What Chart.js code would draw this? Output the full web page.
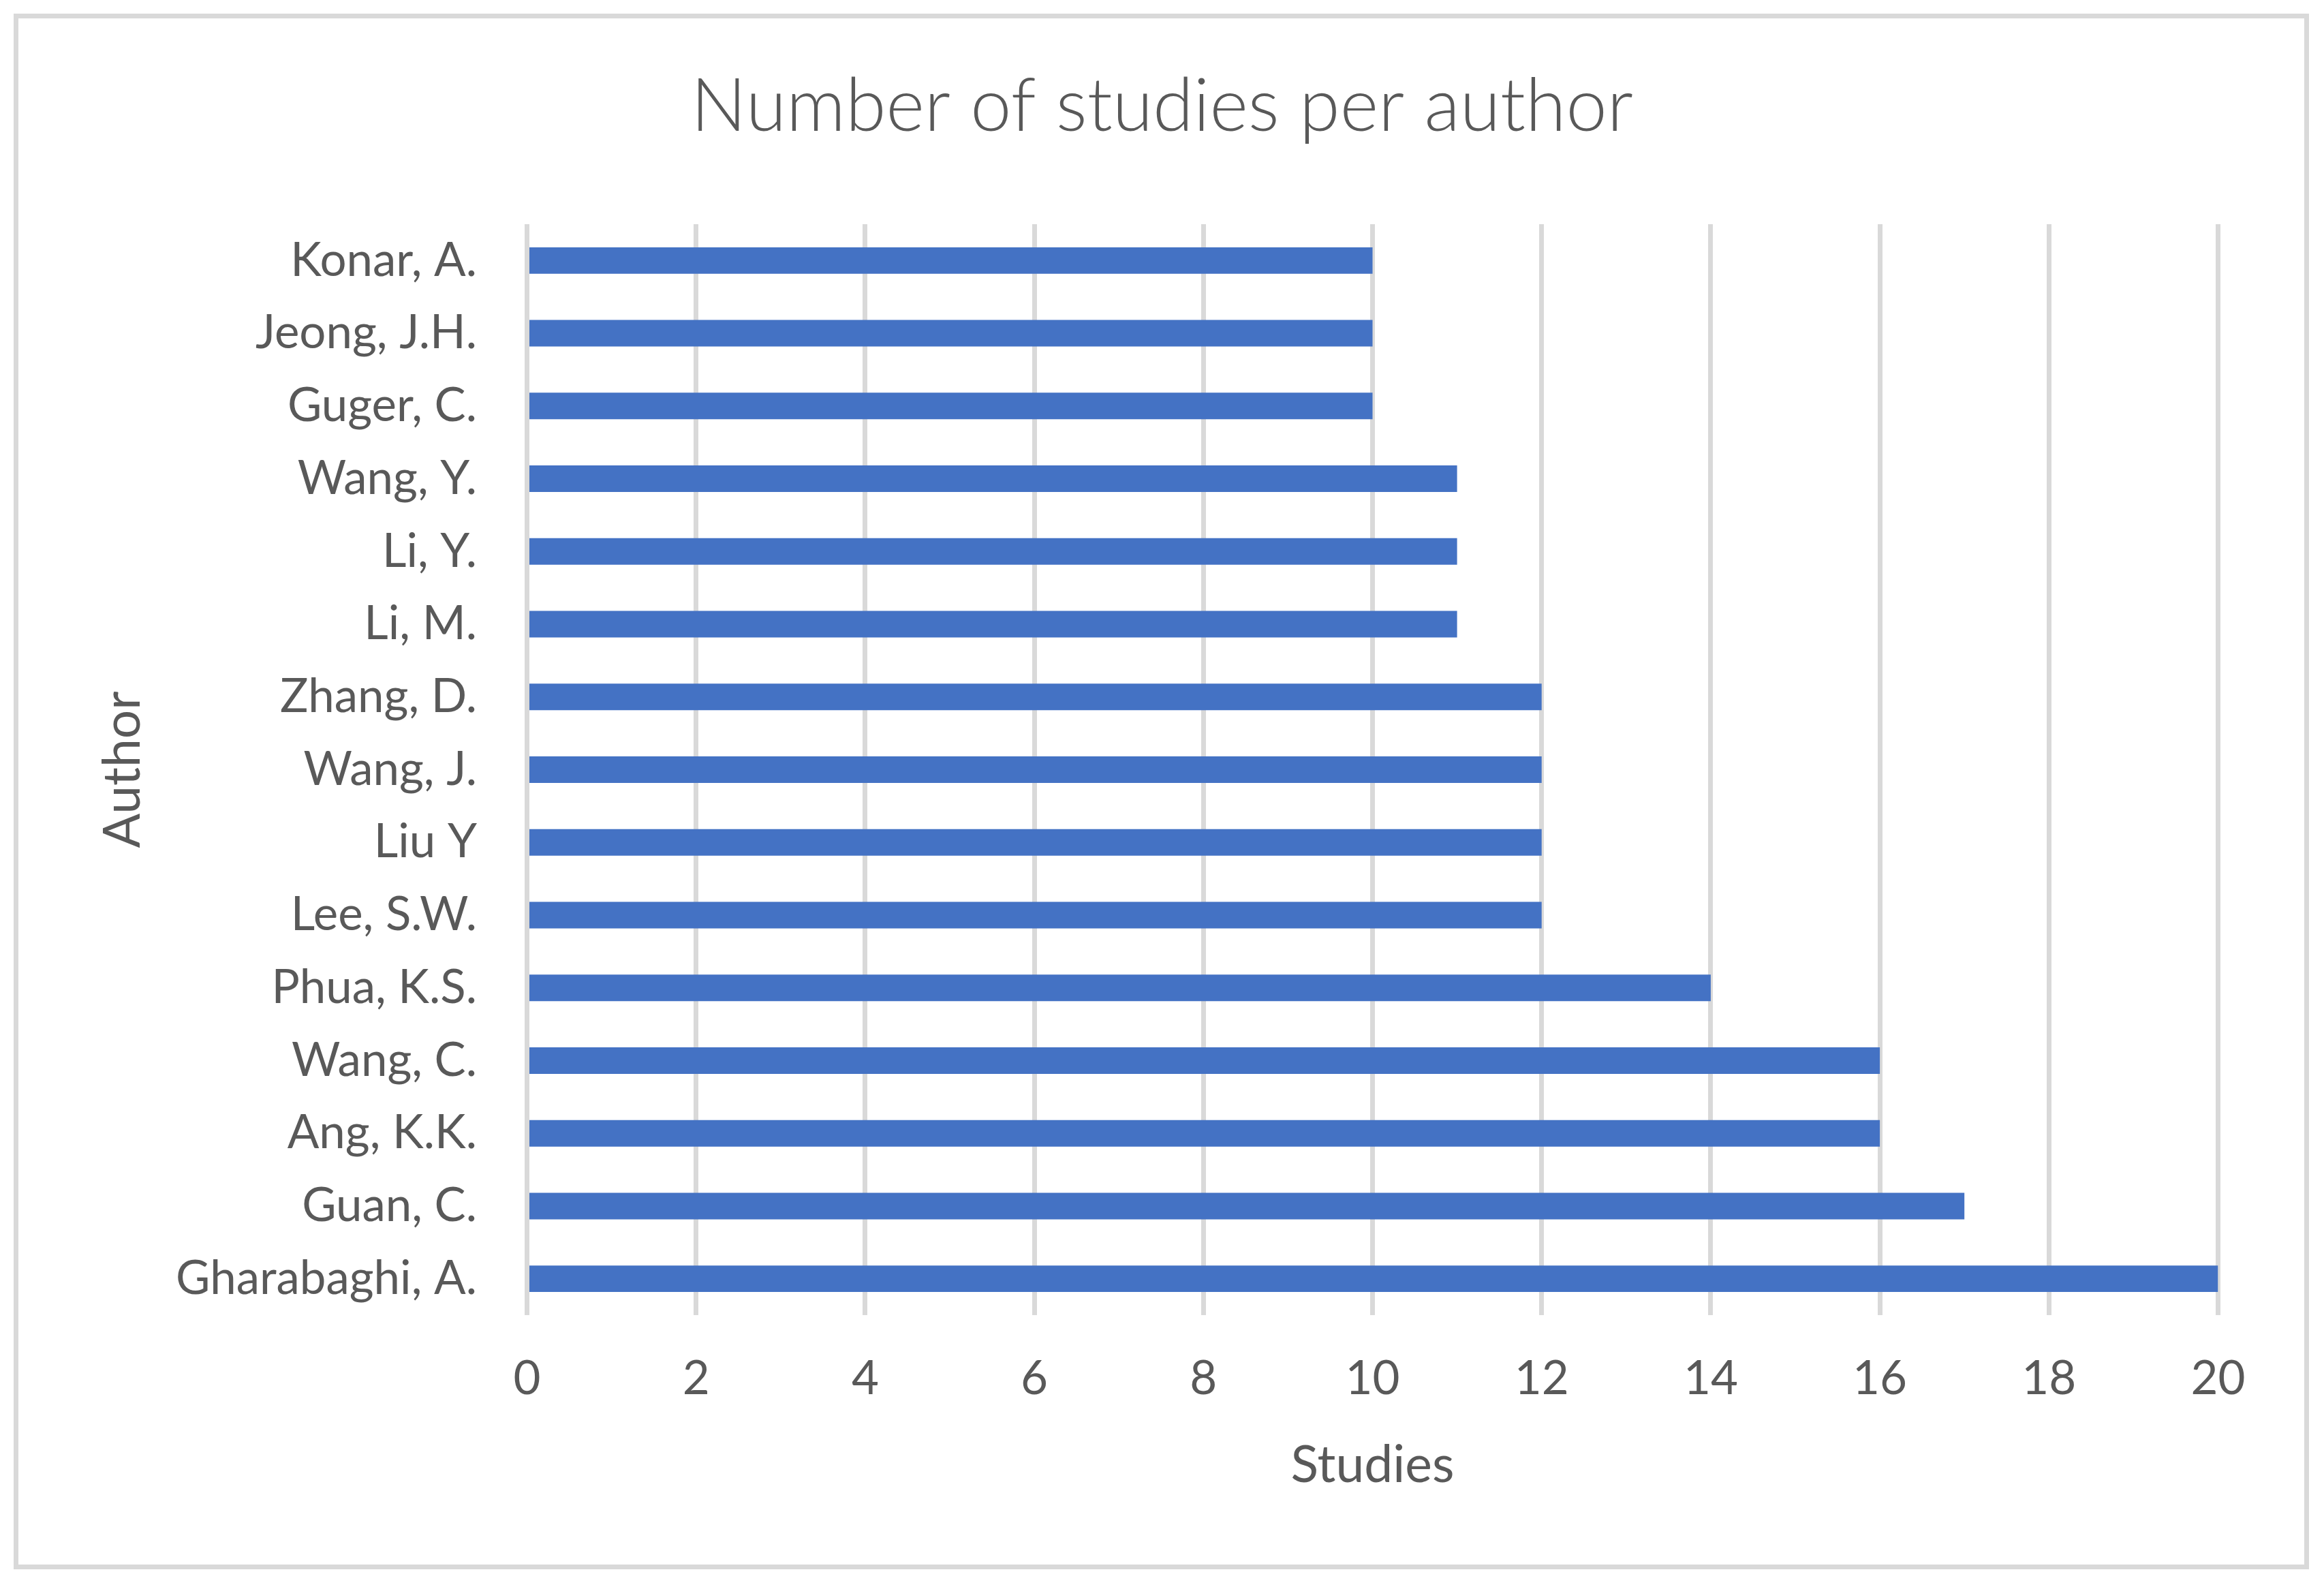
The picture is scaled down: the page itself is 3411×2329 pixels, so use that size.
<!DOCTYPE html>
<html>
<head>
<meta charset="utf-8">
<script src="https://cdn.jsdelivr.net/npm/chart.js@4/dist/chart.umd.min.js"></script>
<style>
  html, body { margin: 0; padding: 0; background: #ffffff; }
  canvas { display: block; }
</style>
</head>
<body>
<canvas id="c" width="3411" height="2329"></canvas>
<script>
const chartTitle = 'Number of studies per author';
const xAxisTitle = 'Studies';
const yAxisTitle = 'Author';
const authors = ['Konar, A.', 'Jeong, J.H.', 'Guger, C.', 'Wang, Y.', 'Li, Y.', 'Li, M.', 'Zhang, D.', 'Wang, J.', 'Liu Y', 'Lee, S.W.', 'Phua, K.S.', 'Wang, C.', 'Ang, K.K.', 'Guan, C.', 'Gharabaghi, A.'];
const studies = [10, 10, 10, 11, 11, 11, 12, 12, 12, 12, 14, 16, 16, 17, 20];
const xMin = 0;
const xMax = 20;
const xStep = 2;

const textColor = '#595959';
const gridColor = '#d9d9d9';
const barColor = '#4472C4';
const fontFamily = 'Lato, Carlito, Calibri, "Open Sans", sans-serif';

const framePlugin = {
  id: 'frame',
  beforeDraw(chart) {
    const ctx = chart.ctx;
    ctx.save();
    ctx.fillStyle = '#ffffff';
    ctx.fillRect(0, 0, chart.width, chart.height);
    ctx.strokeStyle = gridColor;
    ctx.lineWidth = 7;
    ctx.strokeRect(23.5, 23.5, 3362, 2276);
    ctx.restore();
  }
};

new Chart(document.getElementById('c'), {
  type: 'bar',
  data: {
    labels: authors,
    datasets: [{
      label: 'Studies',
      data: studies,
      backgroundColor: barColor,
      borderWidth: 0,
      categoryPercentage: 1,
      barPercentage: 0.365
    }]
  },
  options: {
    indexAxis: 'y',
    responsive: false,
    animation: false,
    devicePixelRatio: 1,
    layout: { padding: { left: 155.5, right: 155.5, top: 0, bottom: 0 } },
    plugins: {
      legend: { display: false },
      tooltip: { enabled: false },
      title: {
        display: true,
        text: chartTitle,
        color: textColor,
        font: { family: fontFamily, size: 108, weight: '300', lineHeight: 1 },
        padding: { top: 103, bottom: 118 }
      }
    },
    scales: {
      x: {
        min: xMin,
        max: xMax,
        afterFit(scale) { scale.height = 399; },
        ticks: {
          stepSize: xStep,
          color: textColor,
          padding: 59,
          font: { family: fontFamily, size: 69, lineHeight: 1 }
        },
        grid: { color: gridColor, lineWidth: 7, drawTicks: false },
        border: { display: false },
        title: {
          display: true,
          text: xAxisTitle,
          color: textColor,
          font: { family: fontFamily, size: 75, lineHeight: 1 },
          padding: { top: 0, bottom: 141 }
        }
      },
      y: {
        afterFit(scale) { scale.width = 618; },
        ticks: {
          color: textColor,
          padding: 73.5,
          font: { family: fontFamily, size: 69, lineHeight: 1 }
        },
        grid: { display: false, drawTicks: false },
        border: { display: false },
        title: {
          display: true,
          text: yAxisTitle,
          color: textColor,
          font: { family: fontFamily, size: 75, lineHeight: 1 },
          padding: { top: -12, bottom: 0 }
        }
      }
    }
  },
  plugins: [framePlugin]
});
</script>
</body>
</html>
